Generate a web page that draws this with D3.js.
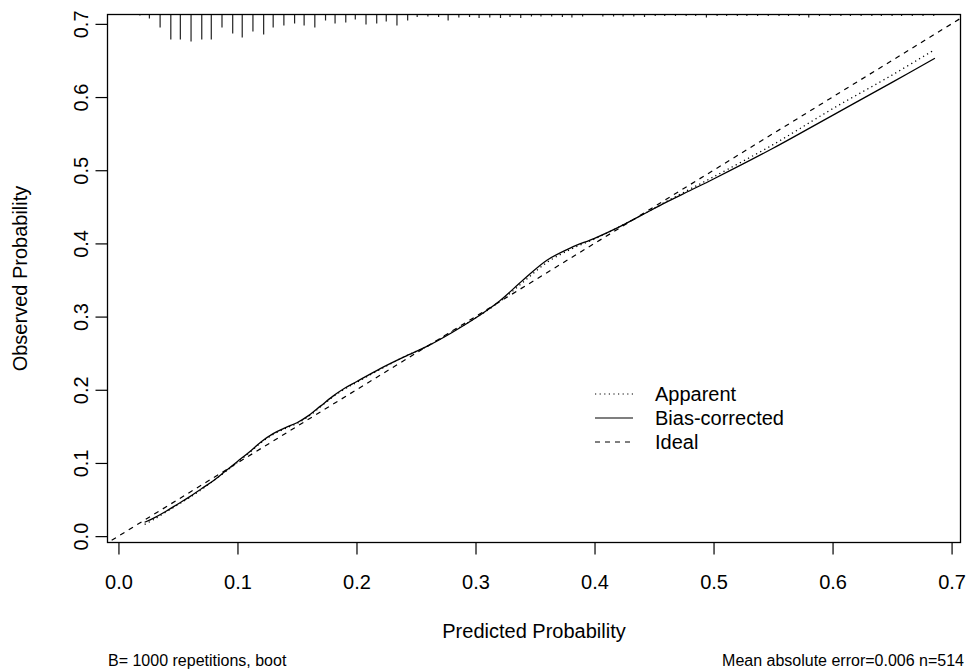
<!doctype html>
<html lang="en">
<head>
<meta charset="utf-8">
<title>Calibration curve</title>
<script src="https://cdn.jsdelivr.net/npm/d3@7"></script>
<style>
  body { margin: 0; background: #fff; }
  svg { display: block; font-family: "Liberation Sans", Arial, sans-serif; }
  .tick line { stroke: #000; stroke-width: 1.2; }
  .tick text { font-size: 20px; fill: #000; }
</style>
</head>
<body>
<svg id="chart" width="968" height="669"></svg>
<script>
// tick values
var xTicks = [0, 0.1, 0.2, 0.3, 0.4, 0.5, 0.6, 0.7];
var yTicks = [0, 0.1, 0.2, 0.3, 0.4, 0.5, 0.6, 0.7];

// calibration curves
var predicted = [0.022, 0.03, 0.04, 0.05, 0.06, 0.07, 0.08, 0.09, 0.10, 0.11, 0.12, 0.13, 0.14, 0.15,
  0.16, 0.17, 0.18, 0.19, 0.20, 0.22, 0.24, 0.26, 0.28, 0.30, 0.32, 0.34, 0.36, 0.38, 0.40,
  0.42, 0.44, 0.46, 0.48, 0.50, 0.55, 0.60, 0.65, 0.686];
var apparent = [0.016, 0.023, 0.033, 0.043, 0.053, 0.064, 0.076, 0.088, 0.101, 0.114, 0.128, 0.139,
  0.147, 0.154, 0.164, 0.177, 0.190, 0.201, 0.210, 0.228, 0.245, 0.260, 0.279, 0.298, 0.320,
  0.347, 0.374, 0.392, 0.406, 0.422, 0.439, 0.457, 0.474, 0.491, 0.535, 0.584, 0.630, 0.665];
var biasCorrected = [0.019, 0.025, 0.034, 0.044, 0.054, 0.065, 0.076, 0.089, 0.102, 0.115, 0.129, 0.140,
  0.148, 0.155, 0.165, 0.178, 0.191, 0.202, 0.211, 0.229, 0.245, 0.260, 0.278, 0.298, 0.321,
  0.350, 0.377, 0.394, 0.407, 0.422, 0.439, 0.456, 0.472, 0.488, 0.530, 0.575, 0.620, 0.653];

// rug of predicted probabilities (bin position, relative frequency)
var rugPos = [0.018, 0.026, 0.035, 0.044, 0.052, 0.061, 0.070, 0.078, 0.087, 0.096, 0.104, 0.113,
  0.122, 0.130, 0.139, 0.148, 0.156, 0.165, 0.174, 0.182, 0.191, 0.199, 0.208, 0.217, 0.225,
  0.234, 0.243, 0.251, 0.260, 0.269, 0.277, 0.286, 0.295, 0.303, 0.312, 0.321, 0.329, 0.338,
  0.347, 0.355, 0.364, 0.373, 0.381, 0.390, 0.407, 0.416, 0.424, 0.433, 0.442, 0.451, 0.459,
  0.468, 0.477, 0.485, 0.494, 0.503, 0.511, 0.520, 0.528, 0.537, 0.546, 0.555, 0.563, 0.572,
  0.580, 0.589, 0.598, 0.607, 0.615, 0.624, 0.633, 0.641, 0.650, 0.658, 0.667, 0.676, 0.685];
var rugFreq = [1, 4, 13, 25, 25, 27, 25, 25, 13, 19, 23, 17,
  20, 13, 11, 9, 11, 13, 6, 9, 8, 5, 10, 9, 7,
  11, 6, 2.5, 2, 2.5, 6, 3, 2.5, 3.5, 3, 3.5, 2.5, 3.5,
  2, 2, 2, 2.5, 3, 2, 2, 2, 2, 2, 2.5, 1.5, 1.5,
  1.5, 1.5, 1.5, 3, 1.5, 1.5, 1.5, 1.5, 1.5, 1.5, 1.5, 1.5, 1.5,
  3, 1.5, 1.5, 1.5, 1.5, 1.5, 1.5, 1.5, 1.5, 1.5, 1.5, 1.5, 1.5];

var legendLabels = ["Apparent", "Bias-corrected", "Ideal"];
var legendDash = ["1.2,3.4", null, "5,5"];
var xTitle = "Predicted Probability";
var yTitle = "Observed Probability";
var noteLeft = "B= 1000 repetitions, boot";
var noteRight = "Mean absolute error=0.006 n=514";

var svg = d3.select("#chart");
var plotL = 107.5, plotR = 960.5, plotT = 14.5, plotB = 542.5;

var x = d3.scaleLinear().domain([-0.0092, 0.7075]).range([plotL, plotR]);
var y = d3.scaleLinear().domain([-0.0087, 0.7128]).range([plotB, plotT]);
var rugLen = d3.scaleLinear().domain([0, d3.max(rugFreq)]).range([0, 27]);

svg.append("clipPath").attr("id", "plotclip")
  .append("rect").attr("x", plotL).attr("y", plotT)
  .attr("width", plotR - plotL).attr("height", plotB - plotT);

// axes
var xAxis = svg.append("g")
  .attr("transform", "translate(0," + plotB + ")")
  .call(d3.axisBottom(x).tickValues(xTicks).tickSize(12).tickFormat(d3.format(".1f")));
xAxis.select(".domain").remove();
xAxis.selectAll(".tick text").attr("dy", null).attr("y", 46.5);

var yAxis = svg.append("g")
  .attr("transform", "translate(" + plotL + ",0)")
  .call(d3.axisLeft(y).tickValues(yTicks).tickSize(12).tickFormat(d3.format(".1f")));
yAxis.select(".domain").remove();
yAxis.selectAll(".tick text")
  .attr("dy", null).attr("x", 0).attr("y", -19.5)
  .attr("text-anchor", "middle")
  .attr("transform", "rotate(-90)");

// rug along the top
var plot = svg.append("g").attr("clip-path", "url(#plotclip)");
plot.selectAll(".rug")
  .data(rugPos)
  .enter().append("line")
    .attr("class", "rug")
    .attr("x1", function(d) { return x(d); })
    .attr("x2", function(d) { return x(d); })
    .attr("y1", plotT)
    .attr("y2", function(d, i) { return plotT + rugLen(rugFreq[i]); })
    .attr("stroke", "#222")
    .attr("stroke-width", 1.2);

// ideal line
plot.append("line")
  .attr("x1", x(-0.02)).attr("y1", y(-0.02))
  .attr("x2", x(0.72)).attr("y2", y(0.72))
  .attr("stroke", "#000").attr("stroke-width", 1.2)
  .attr("stroke-dasharray", "5,5");

var line = d3.line()
  .x(function(d) { return x(d[0]); })
  .y(function(d) { return y(d[1]); })
  .curve(d3.curveCatmullRom);

plot.append("path")
  .datum(d3.zip(predicted, apparent))
  .attr("d", line)
  .attr("fill", "none").attr("stroke", "#000").attr("stroke-width", 1.3)
  .attr("stroke-dasharray", "1.2,3.4");

plot.append("path")
  .datum(d3.zip(predicted, biasCorrected))
  .attr("d", line)
  .attr("fill", "none").attr("stroke", "#000").attr("stroke-width", 1.3);

// box
svg.append("rect")
  .attr("x", plotL).attr("y", plotT)
  .attr("width", plotR - plotL).attr("height", plotB - plotT)
  .attr("fill", "none").attr("stroke", "#000").attr("stroke-width", 1.3);

// legend
var legend = svg.append("g").selectAll("g")
  .data(legendLabels)
  .enter().append("g")
    .attr("transform", function(d, i) { return "translate(0," + (394 + i * 24) + ")"; });
legend.append("line")
  .attr("x1", 595).attr("x2", 633)
  .attr("stroke", "#000").attr("stroke-width", 1.2)
  .attr("stroke-dasharray", function(d, i) { return legendDash[i]; });
legend.append("text")
  .attr("x", 655).attr("y", 7)
  .attr("font-size", 20)
  .text(function(d) { return d; });

// titles
svg.append("text")
  .attr("x", (plotL + plotR) / 2).attr("y", 638)
  .attr("text-anchor", "middle").attr("font-size", 20)
  .text(xTitle);
svg.append("text")
  .attr("transform", "translate(27," + ((plotT + plotB) / 2) + ") rotate(-90)")
  .attr("text-anchor", "middle").attr("font-size", 20)
  .text(yTitle);

svg.append("text")
  .attr("x", 108).attr("y", 665.5).attr("font-size", 16)
  .text(noteLeft);
svg.append("text")
  .attr("x", 964).attr("y", 665.5).attr("font-size", 16)
  .attr("text-anchor", "end")
  .text(noteRight);
</script>
</body>
</html>
